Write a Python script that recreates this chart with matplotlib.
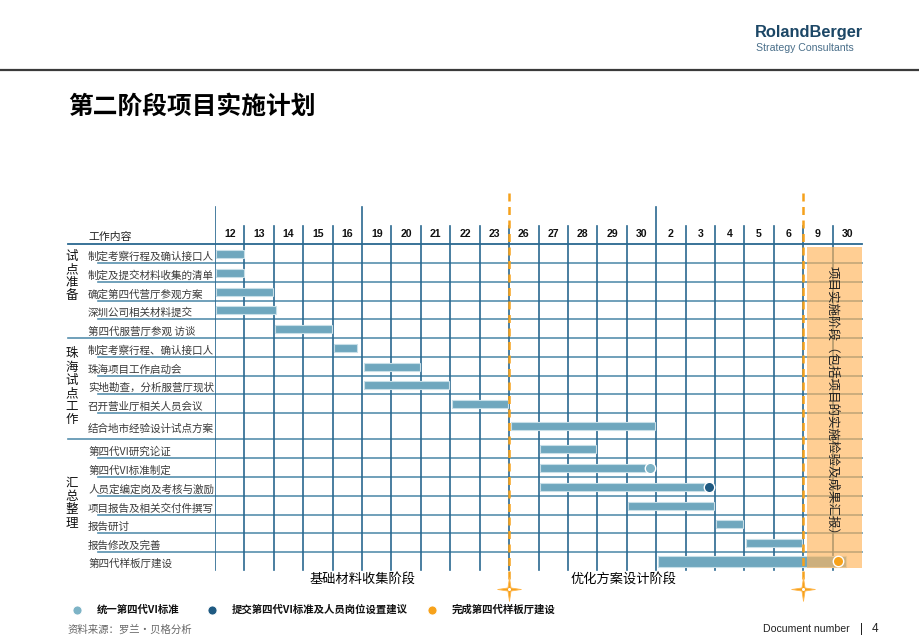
import matplotlib
matplotlib.use('Agg')
import matplotlib.pyplot as plt
from matplotlib import font_manager
from matplotlib.patches import Rectangle
from matplotlib.path import Path

# ---------------- data ----------------
columns = ['12', '13', '14', '15', '16', '19', '20', '21', '22', '23', '26',
           '27', '28', '29', '30', '2', '3', '4', '5', '6', '9', '30']
tasks = ['制定考察行程及确认接口人', '制定及提交材料收集的清单', '确定第四代营厅参观方案',
         '深圳公司相关材料提交', '第四代服营厅参观 访谈', '制定考察行程、确认接口人',
         '珠海项目工作启动会', '实地勘查，分析服营厅现状', '召开营业厅相关人员会议',
         '结合地市经验设计试点方案', '第四代VI研究论证', '第四代VI标准制定',
         '人员定编定岗及考核与激励', '项目报告及相关交付件撰写', '报告研讨',
         '报告修改及完善', '第四代样板厅建设']
starts = [0, 0, 0, 0, 2, 4, 5, 5, 8, 10, 11, 11, 11, 14, 17, 18, 15]
ends = [1, 1, 2, 2.1, 4, 4.85, 7, 8, 10, 15, 13, 14.8, 16.8, 17, 18, 20, 21.5]
groups = ['试点准备', '珠海试点工作', '汇总整理']
group_first_row = [0, 5, 10]
milestone_rows = [11, 12, 16]
milestone_pos = [14.8, 16.8, 21.2]
milestone_labels = ['统一第四代VI标准', '提交第四代VI标准及人员岗位设置建议', '完成第四代样板厅建设']
phase_names = ['基础材料收集阶段', '优化方案设计阶段']
phase_label_pos = [5.0, 13.9]
phase_bounds = [10, 20]
impl_start = 20.13
impl_text = '项目实施阶段（包括项目的实施检验及成果汇报）'

# ---------------- layout / style ----------------
W, H = 920, 637
names = {f.name for f in font_manager.fontManager.ttflist}
NARROW = 'Liberation Sans Narrow' if 'Liberation Sans Narrow' in names else 'Liberation Sans'
plt.rcParams['font.family'] = ['Noto Sans CJK SC', 'DejaVu Sans']

GRID_V = '#2A6890'
GRID_H = '#5890AE'
BAR = '#6FA7BE'
BAR_EDGE = '#C8DFE8'
ORANGE = '#F5A11C'
MS_COLORS = ['#7DB3C6', '#1F5A82', '#F7A21B']

row_heights = [19, 19, 19, 18, 19, 19, 19, 18, 19, 26, 19, 19, 19, 19, 18, 19, 18]
top = 244
bounds = [top]
for h in row_heights:
    bounds.append(bounds[-1] + h)
centers = [(bounds[i] + bounds[i + 1]) / 2 for i in range(len(row_heights))]
grid_bottom = bounds[-1]

fig = plt.figure(figsize=(W / 100, H / 100), dpi=100)
ax0 = fig.add_axes([0, 0, 1, 1])
ax0.set_xlim(0, W)
ax0.set_ylim(H, 0)
ax0.axis('off')

x0_px, x1_px = 215, 862
ax = fig.add_axes([x0_px / W, 0, (x1_px - x0_px) / W, 1])
ax.set_xlim(0, len(columns))
ax.set_ylim(H, 0)
ax.axis('off')
ax.patch.set_alpha(0)

# top header
ax0.plot([0, W], [70, 70], color='#3A3A3A', lw=1.6)
ax0.text(755, 33, 'RolandBerger', family=NARROW, fontsize=11.8, fontweight='bold',
         color='#1C4766', va='center', ha='left')
ax0.text(756, 48, 'Strategy Consultants', family=NARROW, fontsize=7.6,
         color='#4A6F8A', va='center', ha='left')
ax0.text(68, 107, '第二阶段项目实施计划', fontsize=17.8, fontweight='bold',
         color='black', va='center', ha='left')

# horizontal lines
ax0.plot([68, x1_px], [top, top], color=GRID_V, lw=1.3, zorder=2)
for i, b in enumerate(bounds[1:-1], start=1):
    left = 68 if i in group_first_row else 98
    ax0.plot([left, x1_px], [b, b], color=GRID_H, lw=1.2, zorder=2)

# vertical lines
tall = [0, 5, 15]
for i in range(len(columns)):
    ytop = 207 if i in tall else 226
    ax.plot([i, i], [ytop, grid_bottom], color=GRID_V, lw=1.2, zorder=2)
    ax.text(i + 0.5, 234, columns[i], family='Liberation Sans', fontweight='bold',
            fontsize=7.6, ha='center', va='center', color='#111111')

# header label
ax0.text(88, 237, '工作内容', fontsize=7.8, ha='left', va='center', color='#222222')

# task labels
for c, t in zip(centers, tasks):
    ax0.text(88, c + 3, t, fontsize=7.6, ha='left', va='center', color='#3A3A3A', zorder=3)

# group labels (stacked characters)
group_y = [276, 387, 503]
for g, y in zip(groups, group_y):
    ax0.text(72, y, '\n'.join(g), fontsize=9, linespacing=1.02, ha='center',
             va='center', color='#111111')

# bars
for i, (s, e) in enumerate(zip(starts, ends)):
    h = 11 if i == len(tasks) - 1 else 8
    ax.barh(centers[i], e - s - 0.08, left=s + 0.05, height=h, color=BAR,
            edgecolor=BAR_EDGE, lw=0.8, zorder=4)

# milestones
for r, p, c in zip(milestone_rows, milestone_pos, MS_COLORS):
    ax.plot(p, centers[r], 'o', ms=7.5, color=c, mec='white', mew=1.0, zorder=8)

# implementation phase box
ax.add_patch(Rectangle((impl_start, 247), len(columns) - impl_start, 568 - 247,
                       facecolor='#FFB45A', alpha=0.65, edgecolor='none', zorder=6))
ax.text(21.0, 404, impl_text, rotation=270, fontsize=9, ha='center', va='center',
        color='#222222', zorder=9)

# phase boundaries
star = Path([(0, 1), (0.13, 0.13), (1, 0), (0.13, -0.13), (0, -1), (-0.13, -0.13),
             (-1, 0), (-0.13, 0.13), (0, 1)], closed=True)
for b in phase_bounds:
    ax.plot([b, b], [193, 583], color=ORANGE, lw=1.8, ls=(0, (3.2, 2.2)), zorder=7)
    ax.plot(b, 589, marker=star, ms=17, color=ORANGE, mec='#FFB74D', mew=0.6,
            zorder=9, clip_on=False)
    ax.plot(b, 589, 'o', ms=2.2, color='white', mec='none', zorder=10)
for n, p in zip(phase_names, phase_label_pos):
    ax.text(p, 579, n, fontsize=9.5, ha='center', va='center', color='black')

# legend
leg_dot_x = [77, 212, 432]
for x, c, t in zip(leg_dot_x, MS_COLORS, milestone_labels):
    ax0.plot(x, 610, 'o', ms=6.5, color=c, mec='white', mew=0.6)
    ax0.text(x + 20, 610, t, fontsize=7.5, fontweight='bold', ha='left',
             va='center', color='#111111')

# footer
ax0.text(68, 630, '资料来源：罗兰•贝格分析', fontsize=7.5, ha='left', va='center', color='#666666')
ax0.text(763, 629, 'Document number', family=NARROW, fontsize=7.6, ha='left',
         va='center', color='#222222')
ax0.text(862, 629, '|', family=NARROW, fontsize=8.5, ha='center', va='center', color='#222222')
ax0.text(875, 629, '4', family=NARROW, fontsize=8.5, ha='center', va='center', color='#222222')

fig.savefig('out.png', dpi=100)
